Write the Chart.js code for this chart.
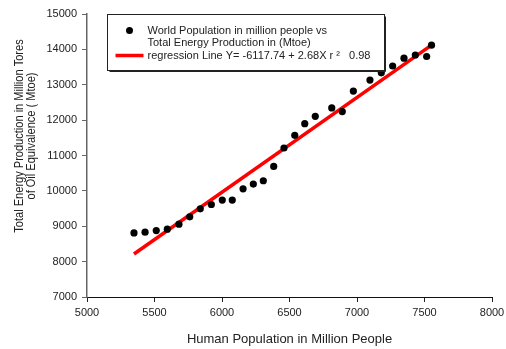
<!DOCTYPE html>
<html>
<head>
<meta charset="utf-8">
<script src="https://cdn.jsdelivr.net/npm/chart.js@4/dist/chart.umd.min.js"></script>
<style>
  html, body { margin: 0; padding: 0; background: #fff; }
  #wrap { width: 506px; height: 349px; }
</style>
</head>
<body>
<div id="wrap"><canvas id="energyChart" width="506" height="349"></canvas></div>
<script>
// world population (million people) vs total energy production (Mtoe)
const population = [5348, 5430, 5513, 5595, 5681, 5761, 5839, 5921, 6002, 6076, 6156, 6232, 6306, 6383,
  6459, 6539, 6613, 6691, 6813, 6891, 6973, 7096, 7180, 7264, 7348, 7432, 7516, 7552];
const energy = [8812, 8833, 8878, 8917, 9059, 9266, 9493, 9615, 9739, 9739, 10059, 10193, 10286, 10691,
  11212, 11569, 11901, 12108, 12346, 12241, 12822, 13133, 13337, 13530, 13751, 13841, 13799, 14119];

// regression: Y = -6117.74 + 2.68X, r² 0.98
const intercept = -6117.74;
const slope = 2.68;
const rSquared = 0.98;
const fitX = [population[0], population[population.length - 1]];

const xTicks = [5000, 5500, 6000, 6500, 7000, 7500, 8000];
const yTicks = [7000, 8000, 9000, 10000, 11000, 12000, 13000, 14000, 15000];

const legendLines = [
  'World Population in million people vs',
  'Total Energy Production in (Mtoe)',
  `regression Line Y= ${intercept.toFixed(2)} + ${slope.toFixed(2)}X r \u00B2   ${rSquared.toFixed(2)}`
];
const yTitle = ['Total Energy Production in Million Tores', 'of Oil Equivalence ( Mtoe)'];

const FONT = 'Arial, "Liberation Sans", sans-serif';

// boxed legend + two-line y title, drawn by hand
const extrasPlugin = {
  id: 'extras',
  afterDraw(chart) {
    const ctx = chart.ctx;
    const area = chart.chartArea;
    ctx.save();

    // y axis title (slightly condensed so it fits the axis height)
    ctx.fillStyle = '#222';
    ctx.font = `12px ${FONT}`;
    ctx.textAlign = 'center';
    ctx.textBaseline = 'middle';
    ctx.translate(19.5, 136);
    ctx.rotate(-Math.PI / 2);
    ctx.scale(0.92, 1);
    yTitle.forEach((t, i) => ctx.fillText(t, 0, i * 12.5));
    ctx.setTransform(1, 0, 0, 1, 0, 0);

    // legend box
    const bx = area.left + 20.5, by = area.top + 0.5, bw = 277, bh = 56;
    ctx.fillStyle = '#fff';
    ctx.fillRect(bx, by, bw, bh);
    ctx.strokeStyle = '#222';
    ctx.lineWidth = 1;
    ctx.strokeRect(bx, by, bw, bh);
    ctx.beginPath();
    ctx.moveTo(bx + bw + 1, by + 2);
    ctx.lineTo(bx + bw + 1, by + bh + 1);
    ctx.lineTo(bx + 2, by + bh + 1);
    ctx.stroke();

    ctx.fillStyle = '#000';
    ctx.beginPath();
    ctx.arc(bx + 22, by + 16, 3.5, 0, Math.PI * 2);
    ctx.fill();

    ctx.strokeStyle = '#ff0000';
    ctx.lineWidth = 3.5;
    ctx.beginPath();
    ctx.moveTo(bx + 8, by + 41);
    ctx.lineTo(bx + 36, by + 41);
    ctx.stroke();

    ctx.fillStyle = '#222';
    ctx.font = `11px ${FONT}`;
    ctx.textAlign = 'left';
    ctx.textBaseline = 'middle';
    legendLines.forEach((t, i) => ctx.fillText(t, bx + 40, by + 16 + i * 12.5));

    ctx.restore();
  }
};

new Chart('energyChart', {
  type: 'scatter',
  data: {
    datasets: [
      {
        label: 'regression Line',
        data: fitX.map(x => ({ x: x, y: intercept + slope * x })),
        showLine: true,
        borderColor: '#ff0000',
        borderWidth: 3.5,
        pointRadius: 0,
        order: 2
      },
      {
        label: 'World Population vs Total Energy Production',
        data: population.map((p, i) => ({ x: p, y: energy[i] })),
        backgroundColor: '#000',
        borderColor: '#000',
        borderWidth: 0,
        pointRadius: 3.6,
        order: 1
      }
    ]
  },
  options: {
    responsive: false,
    animation: false,
    layout: { padding: { top: 14, right: 14, left: 0, bottom: 0 } },
    plugins: {
      legend: { display: false },
      tooltip: { enabled: false }
    },
    scales: {
      x: {
        type: 'linear',
        min: 5000,
        max: 8000,
        afterBuildTicks: (scale) => { scale.ticks = xTicks.map(v => ({ value: v })); },
        afterFit: (scale) => {
          scale.height = 52;
          scale.paddingLeft = 0;
          scale.paddingRight = 0;
        },
        grid: { drawOnChartArea: false, tickLength: 5, color: '#222' },
        border: { color: '#111', width: 1 },
        ticks: {
          color: '#222',
          font: { family: FONT, size: 11 },
          padding: 4,
          maxRotation: 0,
          callback: (v) => String(v)
        },
        title: {
          display: true,
          text: 'Human Population in Million People',
          color: '#222',
          font: { family: FONT, size: 13 },
          padding: { top: 0, bottom: 2 }
        }
      },
      y: {
        type: 'linear',
        min: 7000,
        max: 15000,
        afterBuildTicks: (scale) => { scale.ticks = yTicks.map(v => ({ value: v })); },
        afterFit: (scale) => {
          scale.width = 87;
          scale.paddingTop = 0;
          scale.paddingBottom = 0;
        },
        grid: { drawOnChartArea: false, tickLength: 5, color: '#666' },
        border: { color: '#666', width: 1.5 },
        ticks: {
          color: '#222',
          font: { family: FONT, size: 11 },
          padding: 5,
          callback: (v) => String(v)
        }
      }
    }
  },
  plugins: [extrasPlugin]
});
</script>
</body>
</html>
